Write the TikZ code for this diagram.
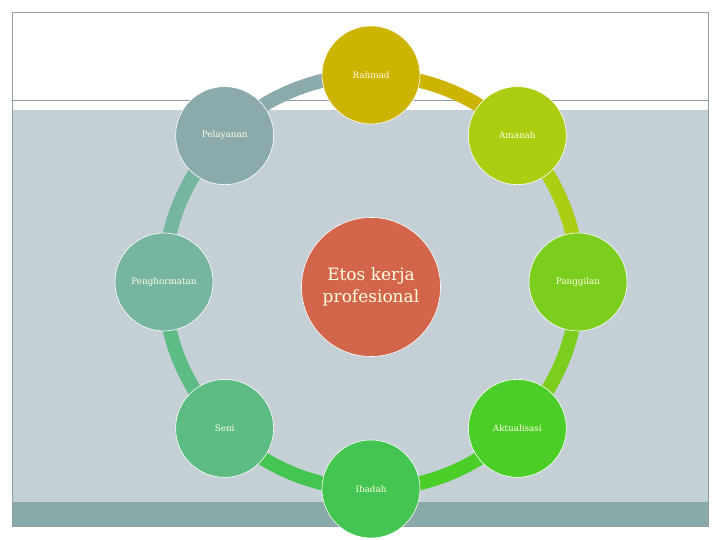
\documentclass[tikz,border=0pt]{standalone}
\usepackage{fontspec}
\setmainfont{DejaVu Serif}
\usetikzlibrary{calc}
\definecolor{bgGray}{RGB}{197,208,214}
\definecolor{bandTeal}{RGB}{138,170,170}
\definecolor{frameCol}{RGB}{140,160,165}
\definecolor{cRahmad}{RGB}{205,180,0}
\definecolor{cAmanah}{RGB}{172,206,18}
\definecolor{cPanggilan}{RGB}{124,206,30}
\definecolor{cAktual}{RGB}{76,206,40}
\definecolor{cIbadah}{RGB}{68,196,80}
\definecolor{cSeni}{RGB}{92,188,132}
\definecolor{cPengh}{RGB}{118,182,160}
\definecolor{cPelay}{RGB}{138,170,172}
\definecolor{cCenter}{RGB}{210,101,74}
\definecolor{txtCream}{RGB}{255,255,228}
\begin{document}
\begin{tikzpicture}[x=1pt,y=1pt,
  outer/.style={circle,draw=white,line width=0.6pt,minimum size=98pt,inner sep=0pt,
    text=txtCream,font=\fontsize{8.8}{10}\selectfont},
  ringarc/.style={line width=14pt},
]
\useasboundingbox (0,0) rectangle (720,540);
% background
\fill[bgGray] (12,38) rectangle (708,430);
\fill[bandTeal] (12,14) rectangle (708,38);
\draw[frameCol,line width=0.8pt] (12,14) rectangle (708,528);
\draw[frameCol,line width=0.8pt] (12,440) -- (708,440);
% ring centre
\coordinate (ring) at (371,258);
% arcs
\draw[ringarc,cRahmad]    (ring) ++(90:207)  arc[start angle=90,end angle=45,radius=207];
\draw[ringarc,cAmanah]    (ring) ++(45:207)  arc[start angle=45,end angle=0,radius=207];
\draw[ringarc,cPanggilan] (ring) ++(0:207)   arc[start angle=0,end angle=-45,radius=207];
\draw[ringarc,cAktual]    (ring) ++(-45:207) arc[start angle=-45,end angle=-90,radius=207];
\draw[ringarc,cIbadah]    (ring) ++(-90:207) arc[start angle=-90,end angle=-135,radius=207];
\draw[ringarc,cSeni]      (ring) ++(-135:207) arc[start angle=-135,end angle=-180,radius=207];
\draw[ringarc,cPengh]     (ring) ++(180:207) arc[start angle=180,end angle=135,radius=207];
\draw[ringarc,cPelay]     (ring) ++(135:207) arc[start angle=135,end angle=90,radius=207];
% nodes
\node[outer,fill=cRahmad]    (rahmad) at ($(ring)+(90:207)$) {Rahmad};
\node[outer,fill=cAmanah]    (amanah) at ($(ring)+(45:207)$) {Amanah};
\node[outer,fill=cPanggilan] (panggilan) at ($(ring)+(0:207)$) {Panggilan};
\node[outer,fill=cAktual]    (aktual) at ($(ring)+(-45:207)$) {Aktualisasi};
\node[outer,fill=cIbadah]    (ibadah) at ($(ring)+(-90:207)$) {Ibadah};
\node[outer,fill=cSeni]      (seni) at ($(ring)+(-135:207)$) {Seni};
\node[outer,fill=cPengh]     (pengh) at ($(ring)+(180:207)$) {Penghormatan};
\node[outer,fill=cPelay]     (pelay) at ($(ring)+(135:207)$) {Pelayanan};
\node[circle,draw=white,line width=0.6pt,fill=cCenter,minimum size=139pt,inner sep=0pt,
  text=txtCream,align=center,font=\fontsize{17}{22}\selectfont] (center) at (371,253)
  {Etos kerja\\profesional};
\end{tikzpicture}
\end{document}
